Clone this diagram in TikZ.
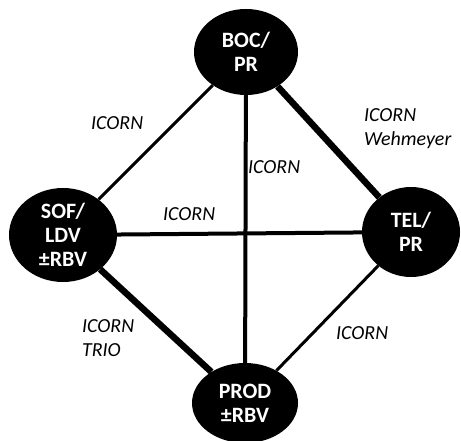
\documentclass[tikz,border=0pt]{standalone}
\usepackage{fontspec}
\setmainfont{Carlito}
\usetikzlibrary{shapes.geometric,backgrounds}
\begin{document}
\begin{tikzpicture}[x=1bp,y=-1bp,
  hub/.style={ellipse,fill=black,draw=none,inner sep=0pt},
  hubtext/.style={text=white,font=\fontsize{22}{24}\selectfont\bfseries,align=center,inner sep=0pt},
  lbl/.style={font=\fontsize{20}{24}\selectfont\itshape,align=left,inner sep=0pt},
  thin/.style={line width=3bp},
  mid/.style={line width=4bp},
  thick/.style={line width=6.5bp}]
\useasboundingbox (0,0) rectangle (461,441);
% the four partner hubs
\node[hub,minimum width=104bp,minimum height=86bp] (boc) at (246,52) {};
\node[hub,minimum width=108bp,minimum height=94bp] (sof) at (63,235) {};
\node[hub,minimum width=98bp,minimum height=90bp] (tel) at (411,232) {};
\node[hub,minimum width=106bp,minimum height=80bp] (prod) at (245,403) {};
\node[hubtext] (boct) at (boc.center) {BOC/\\PR};
\node[hubtext] (soft) at (sof.center) {SOF/\\LDV\\±RBV};
\node[hubtext] (telt) at (tel.center) {TEL/\\PR};
\node[hubtext] (prodt) at (prod.center) {PROD\\±RBV};
% links between hubs
\begin{scope}[on background layer]
\draw[thin]  (boc) -- (sof);
\draw[thick] (boc) -- (tel);
\draw[mid]   (boc.center) -- (prod.center);
\draw[mid]   (sof.center) -- (tel.center);
\draw[thick] (sof) -- (prod);
\draw[thin]  (tel) -- (prod);
\end{scope}
% link labels
\node[lbl,anchor=west] (l1) at (91,123) {ICORN};
\node[lbl,anchor=west] (l2) at (248,167) {ICORN};
\node[lbl,anchor=west] (l3) at (163,214) {ICORN};
\node[lbl,anchor=west] (l4) at (364,129) {ICORN\\Wehmeyer};
\node[lbl,anchor=west] (l5) at (82,338) {ICORN\\TRIO};
\node[lbl,anchor=west] (l6) at (336,333) {ICORN};
\end{tikzpicture}
\end{document}
